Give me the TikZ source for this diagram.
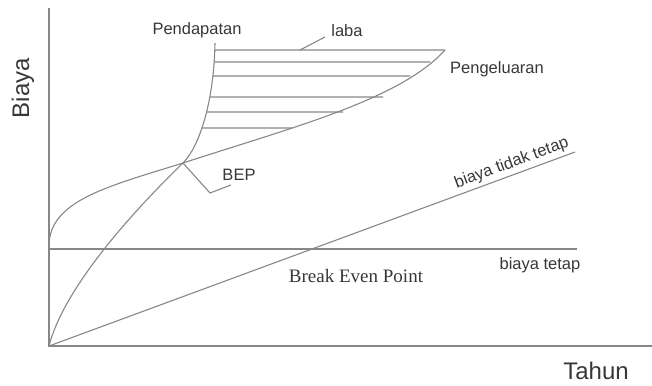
\documentclass[tikz,border=0pt]{standalone}
\usepackage{fontspec}
\setmainfont{Liberation Sans}
\newfontfamily\timesfont{Liberation Serif}
\usetikzlibrary{intersections}
\definecolor{linegray}{RGB}{135,135,135}
\definecolor{textgray}{RGB}{55,55,55}
\begin{document}
\begin{tikzpicture}[x=1pt,y=-1pt,
  curve/.style={draw=linegray, line width=1.1pt},
  lbl/.style={text=textgray, font=\fontsize{16.5}{18}\selectfont, inner sep=0pt},
  axlbl/.style={text=textgray, font=\fontsize{24}{26}\selectfont, inner sep=0pt},
  serlbl/.style={text=textgray, font=\timesfont\fontsize{19}{21}\selectfont, inner sep=0pt}]
\useasboundingbox (0,0) rectangle (652,385);
% axes
\coordinate (O) at (49,346);
\coordinate (ytop) at (49,8);
\coordinate (xend) at (652,346);
\draw[curve] (ytop) -- (O) -- (xend);
% fixed cost
\coordinate (ft0) at (49,249);
\coordinate (ft1) at (577,249);
\draw[curve] (ft0) -- (ft1);
% variable cost
\coordinate (vt1) at (575,152);
\draw[curve] (O) -- (vt1) node[pos=0.887, sloped, above=3pt, lbl] (vtl) {biaya tidak tetap};
% Pendapatan
\coordinate (bepc) at (183,163);
\coordinate (pendtop) at (215,43);
\draw[curve, name path=pend] (O) .. controls (62,295) and (118,226) .. (bepc)
  .. controls (200,146) and (214,100) .. (pendtop);
% Pengeluaran
\coordinate (pg0) at (49,246);
\coordinate (pgend) at (445,50);
\draw[curve, name path=peng] (pg0) .. controls (49,200) and (110,186) .. (bepc)
  .. controls (290,128) and (400,100) .. (pgend);
% hatching (laba)
\foreach \yy/\xe in {50/445,62/430,76/410,97/383,112/343,128/292}{
  \path[name path=hline] (150,\yy) -- (\xe,\yy);
  \path[name intersections={of=pend and hline, by=hs}];
  \coordinate (he) at (\xe,\yy);
  \draw[curve] (hs) -- (he);
}
% BEP
\coordinate (bk) at (210,193);
\coordinate (be) at (231,185);
\draw[curve] (bepc) -- (bk) -- (be);
\node[lbl] (bepl) at (239,175) {BEP};
% laba leader
\coordinate (lb0) at (300,50);
\coordinate (lb1) at (325,37);
\draw[curve] (lb0) -- (lb1);
\node[lbl] (laba) at (347,31) {laba};
% labels
\node[lbl] (pendl) at (197,30) {Pendapatan};
\node[lbl] (pengl) at (497,69) {Pengeluaran};
\node[lbl] (ftl) at (540,265) {biaya tetap};
\node[serlbl] (bepn) at (356,276) {Break Even Point};
\node[axlbl] (tahun) at (596,371) {Tahun};
\node[axlbl, rotate=90] (biaya) at (23,88) {Biaya};
\end{tikzpicture}
\end{document}
